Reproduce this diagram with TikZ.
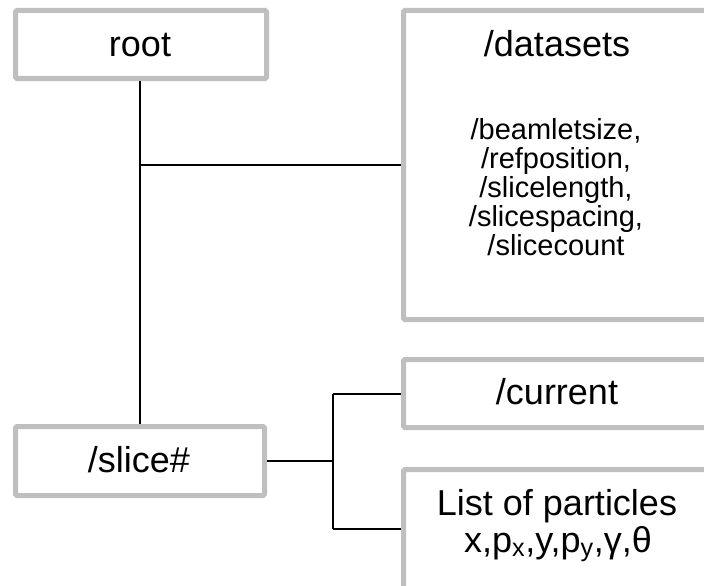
\documentclass[tikz,border=0pt]{standalone}
\usepackage{fontspec}
\setmainfont{Liberation Sans}
\definecolor{boxgray}{RGB}{191,191,191}
\begin{document}
\begin{tikzpicture}[x=1pt,y=-1pt,
  box/.style={draw=boxgray, line width=5pt, rounded corners=1.5pt, fill=white,
    rectangle, inner sep=0pt},
  conn/.style={draw=black, line width=2pt},
  big/.style={font=\fontsize{36}{37}\selectfont, inner sep=0pt, anchor=base},
  small/.style={font=\fontsize{29}{29}\selectfont, inner sep=0pt, anchor=base}]
\clip (0,0) rectangle (704,586);
\fill[white] (0,0) rectangle (704,586);
% boxes
\node[box, minimum width=251pt, minimum height=68pt] (root) at (141,44.5) {};
\node[box, minimum width=249pt, minimum height=69pt] (slice) at (140,461) {};
\node[box, minimum width=306.5pt, minimum height=309pt] (datasets) at (556.75,165) {};
\node[box, minimum width=306.5pt, minimum height=68pt] (current) at (556.75,393.5) {};
\node[box, minimum width=306.5pt, minimum height=150.5pt] (list) at (556.75,544.75) {};
% texts
\node[big] (troot) at (140,57) {root};
\node[big] (tdatasets) at (557,57) {/datasets};
\node[small] (tl1) at (556,139) {/beamletsize,};
\node[small] (tl2) at (556,168) {/refposition,};
\node[small] (tl3) at (556,197) {/slicelength,};
\node[small] (tl4) at (556,226) {/slicespacing,};
\node[small] (tl5) at (556,255) {/slicecount};
\node[big] (tcurrent) at (557,404) {/current};
\node[big] (tslice) at (139,472) {/slice\#};
\node[big] (tlist1) at (557,515) {List of particles};
\node[big] (tlist2) at (558,552) {x,p\textsubscript{x},y,p\textsubscript{y},γ,θ};
% connectors
\coordinate (j1) at (140,165);
\coordinate (j2) at (333,460);
\coordinate (j3) at (333,529);
\draw[conn] (root.south -| slice.north) -- (slice.north);
\draw[conn] (j1) -- (j1 -| datasets.west);
\draw[conn] (slice.east) -- (j2 |- slice.east);
\draw[conn] (j2 |- current.west) -- (j3);
\draw[conn] (j2 |- current.west) -- (current.west);
\draw[conn] (j3) -- (j3 -| list.west);
\end{tikzpicture}
\end{document}
